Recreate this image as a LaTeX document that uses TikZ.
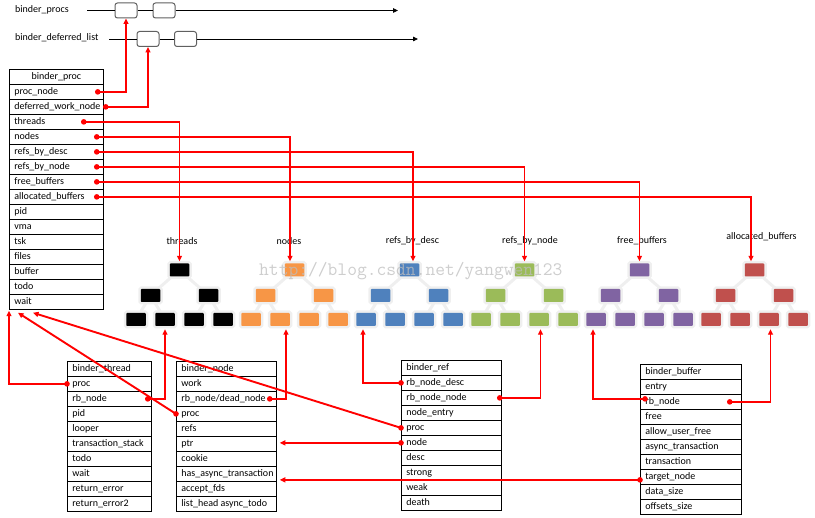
\documentclass[tikz,border=0pt]{standalone}
\usepackage{fontspec}
\setmainfont{Carlito}
\usetikzlibrary{arrows.meta}
\definecolor{tor}{HTML}{F79646}
\definecolor{tbl}{HTML}{4F81BD}
\definecolor{tgr}{HTML}{9BBB59}
\definecolor{tpu}{HTML}{8064A2}
\definecolor{tre}{HTML}{C0504D}
\definecolor{halo}{HTML}{EFEFEF}
\definecolor{boxgray}{HTML}{606060}
\definecolor{wmark}{HTML}{BDBDBD}
\pgfdeclarelayer{bg}
\pgfsetlayers{bg,main}
\newcommand\mkStructTable[5]{%
  \foreach \t [count=\k] in {#5}{%
    \node[cell] (#1\k) at (#2,#3+15*\k-15) {\makebox[#4][l]{\t}};}}
\begin{document}
\begin{tikzpicture}[x=1pt,y=-1pt,
  font=\fontsize{10}{11}\selectfont,
  cell/.style={draw,line width=0.75pt,anchor=north west,minimum height=15pt,
    inner xsep=5pt,inner ysep=0pt,text height=7pt,text depth=2pt},
  lbox/.style={draw=boxgray,line width=1pt,rounded corners=2.5pt,fill=white,
    minimum width=22pt,minimum height=15pt,inner sep=0pt},
  blk/.style={draw=black,line width=0.8pt},
  tb/.style={minimum width=19.5pt,minimum height=13pt,inner sep=0pt,
    rounded corners=0.8pt,preaction={draw=halo,line width=5pt}},
  tedge/.style={draw=halo,line width=3pt},
  rl/.style={draw=red,line width=1.9pt},
  rar/.style={rl,-{Triangle[length=5.5pt,width=5pt]}},
  lbl/.style={inner sep=0pt,anchor=west}
]
\useasboundingbox (0,0) rectangle (815,518);

% ---------- top lists ----------
\node[lbl] (lprocs) at (15,10) {binder\_procs};
\node[lbl] (ldef) at (15,38) {binder\_deferred\_list};
\node[lbox] (pb1) at (126,10.5) {};
\node[lbox] (pb2) at (164,10.5) {};
\node[lbox] (db1) at (148,39) {};
\node[lbox] (db2) at (185.5,39) {};
\coordinate (ps) at (87,10.5);
\coordinate (pe) at (398,10.5);
\coordinate (ds) at (109,39);
\coordinate (de) at (418,39);
\draw[blk] (ps) -- (pb1.west) (pb1.east) -- (pb2.west);
\draw[blk,-{Triangle[length=5pt,width=4.5pt]}] (pb2.east) -- (pe);
\draw[blk] (ds) -- (db1.west) (db1.east) -- (db2.west);
\draw[blk,-{Triangle[length=5pt,width=4.5pt]}] (db2.east) -- (de);

% ---------- binder_proc ----------
\node[cell] (bp0) at (9,69) {\makebox[84pt][c]{binder\_proc}};
\mkStructTable{bp}{9}{84}{84pt}{proc\_node,deferred\_work\_node,threads,nodes,refs\_by\_desc,refs\_by\_node,free\_buffers,allocated\_buffers,pid,vma,tsk,files,buffer,todo,wait}

% ---------- trees ----------
\foreach \c [count=\i from 0] in {black,tor,tbl,tgr,tpu,tre}{
  \pgfmathsetmacro\xo{136+115*\i}
  \node[tb,fill=\c] (t\i r) at (\xo+43.5,270) {};
  \node[tb,fill=\c] (t\i m1) at (\xo+14.5,295.5) {};
  \node[tb,fill=\c] (t\i m2) at (\xo+72.5,295.5) {};
  \foreach \j in {1,...,4}{
    \node[tb,fill=\c] (t\i l\j) at (\xo+29*\j-29,319.5) {};}
  \begin{pgfonlayer}{bg}
    \draw[tedge] (t\i r.center) -- (t\i m1.center);
    \draw[tedge] (t\i r.center) -- (t\i m2.center);
    \draw[tedge] (t\i m1.center) -- (t\i l1.center);
    \draw[tedge] (t\i m1.center) -- (t\i l2.center);
    \draw[tedge] (t\i m2.center) -- (t\i l3.center);
    \draw[tedge] (t\i m2.center) -- (t\i l4.center);
  \end{pgfonlayer}
}
\node (lth) at (182,241) {threads};
\node (lno) at (289,241) {nodes};
\node (lrd) at (412.5,241) {refs\_by\_desc};
\node (lrn) at (530,241) {refs\_by\_node};
\node (lfb) at (642,241) {free\_buffers};
\node (lab) at (761.5,237) {allocated\_buffers};

% ---------- bottom structs ----------
\mkStructTable{bt}{67}{361}{74pt}{binder\_thread,proc,rb\_node,pid,looper,transaction\_stack,todo,wait,return\_error,return\_error2}
\mkStructTable{bn}{176}{361}{90pt}{binder\_node,work,rb\_node/dead\_node,proc,refs,ptr,cookie,has\_async\_transaction,accept\_fds,list\_head async\_todo}
\mkStructTable{br}{401}{360}{90pt}{binder\_ref,rb\_node\_desc,rb\_node\_node,node\_entry,proc,node,desc,strong,weak,death}
\mkStructTable{bb}{640}{364}{91pt}{binder\_buffer,entry,rb\_node,free,allow\_user\_free,async\_transaction,transaction,target\_node,data\_size,offsets\_size}

% ---------- dot positions ----------
\coordinate (d1) at ([xshift=-6pt]bp1.east);
\coordinate (d2) at ([xshift=2pt]bp2.east);
\coordinate (d3) at ([xshift=-20pt]bp3.east);
\coordinate (d4) at ([xshift=-7pt]bp4.east);
\coordinate (d5) at ([xshift=-7pt]bp5.east);
\coordinate (d6) at ([xshift=-7pt]bp6.east);
\coordinate (d7) at ([xshift=-7pt]bp7.east);
\coordinate (d8) at ([xshift=-7pt]bp8.east);
\coordinate (e1) at (bt2.west);
\coordinate (e2) at ([xshift=-4pt]bt3.east);
\coordinate (e3) at (bn4.west);
\coordinate (e4) at ([xshift=-7pt]bn3.east);
\coordinate (e5) at (br2.west);
\coordinate (e6) at ([xshift=-2pt]br3.east);
\coordinate (e7) at (br5.west);
\coordinate (e8) at (br6.west);
\coordinate (e9) at ([xshift=5pt,yshift=3pt]bb3.west);
\coordinate (e10) at ([xshift=-12pt]bb3.east);
\coordinate (e11) at ([yshift=-3pt]bb8.west);
\coordinate (ptrend) at ([xshift=3pt]bn6.east);
\coordinate (hatend) at ([xshift=3pt]bn8.east);

% ---------- red connectors ----------
\draw[rar] (d1) -| (pb1.south);
\draw[rar] (d2) -| (db1.south);
\draw[rar] (d3) -| ([yshift=2pt]t0r.north);
\draw[rar] (d4) -| ([xshift=-4.5pt,yshift=2pt]t1r.north);
\draw[rar] (d5) -| ([xshift=3.5pt,yshift=2pt]t2r.north);
\draw[rar] (d6) -| ([yshift=2pt]t3r.north);
\draw[rar] (d7) -| ([yshift=2pt]t4r.north);
\draw[rar] (d8) -| ([xshift=-3.5pt,yshift=2pt]t5r.north);

\draw[rar] (e1) -| ([yshift=-1pt]bp15.south west);
\draw[rar] (e2) -| ([yshift=-3pt]t0l2.south);
\draw[rar] (e3) -- ([xshift=9pt,yshift=-3pt]bp15.south west);
\draw[rar] (e4) -| ([xshift=6pt,yshift=-3pt]t1l2.south);
\draw[rar] (e5) -| ([xshift=-3pt,yshift=-3pt]t2l1.south);
\draw[rar] (e6) -| ([xshift=1.5pt,yshift=-3pt]t3l3.south);
\draw[rar] (e7) -- ([xshift=24pt,yshift=-3pt]bp15.south west);
\draw[rar] (e8) -- (e8 -| ptrend);
\draw[rar] (e9) -| ([xshift=-3pt,yshift=-3pt]t4l1.south);
\draw[rar] (e10) -| ([xshift=1.5pt,yshift=-3pt]t5l3.south);
\draw[rar] (e11) -- (e11 -| hatend);

\foreach \p in {d1,d2,d3,d4,d5,d6,d7,d8,e1,e2,e3,e4,e5,e6,e7,e8,e9,e10,e11}
  \fill[red] (\p) circle (2.8pt);

% ---------- watermark ----------
\node[anchor=base west,inner sep=0pt,text=wmark,opacity=0.75,
  font=\ttfamily\fontsize{19}{19}\selectfont] (wm) at (259,276) {http://blog.csdn.net/yangwen123};
\end{tikzpicture}
\end{document}
